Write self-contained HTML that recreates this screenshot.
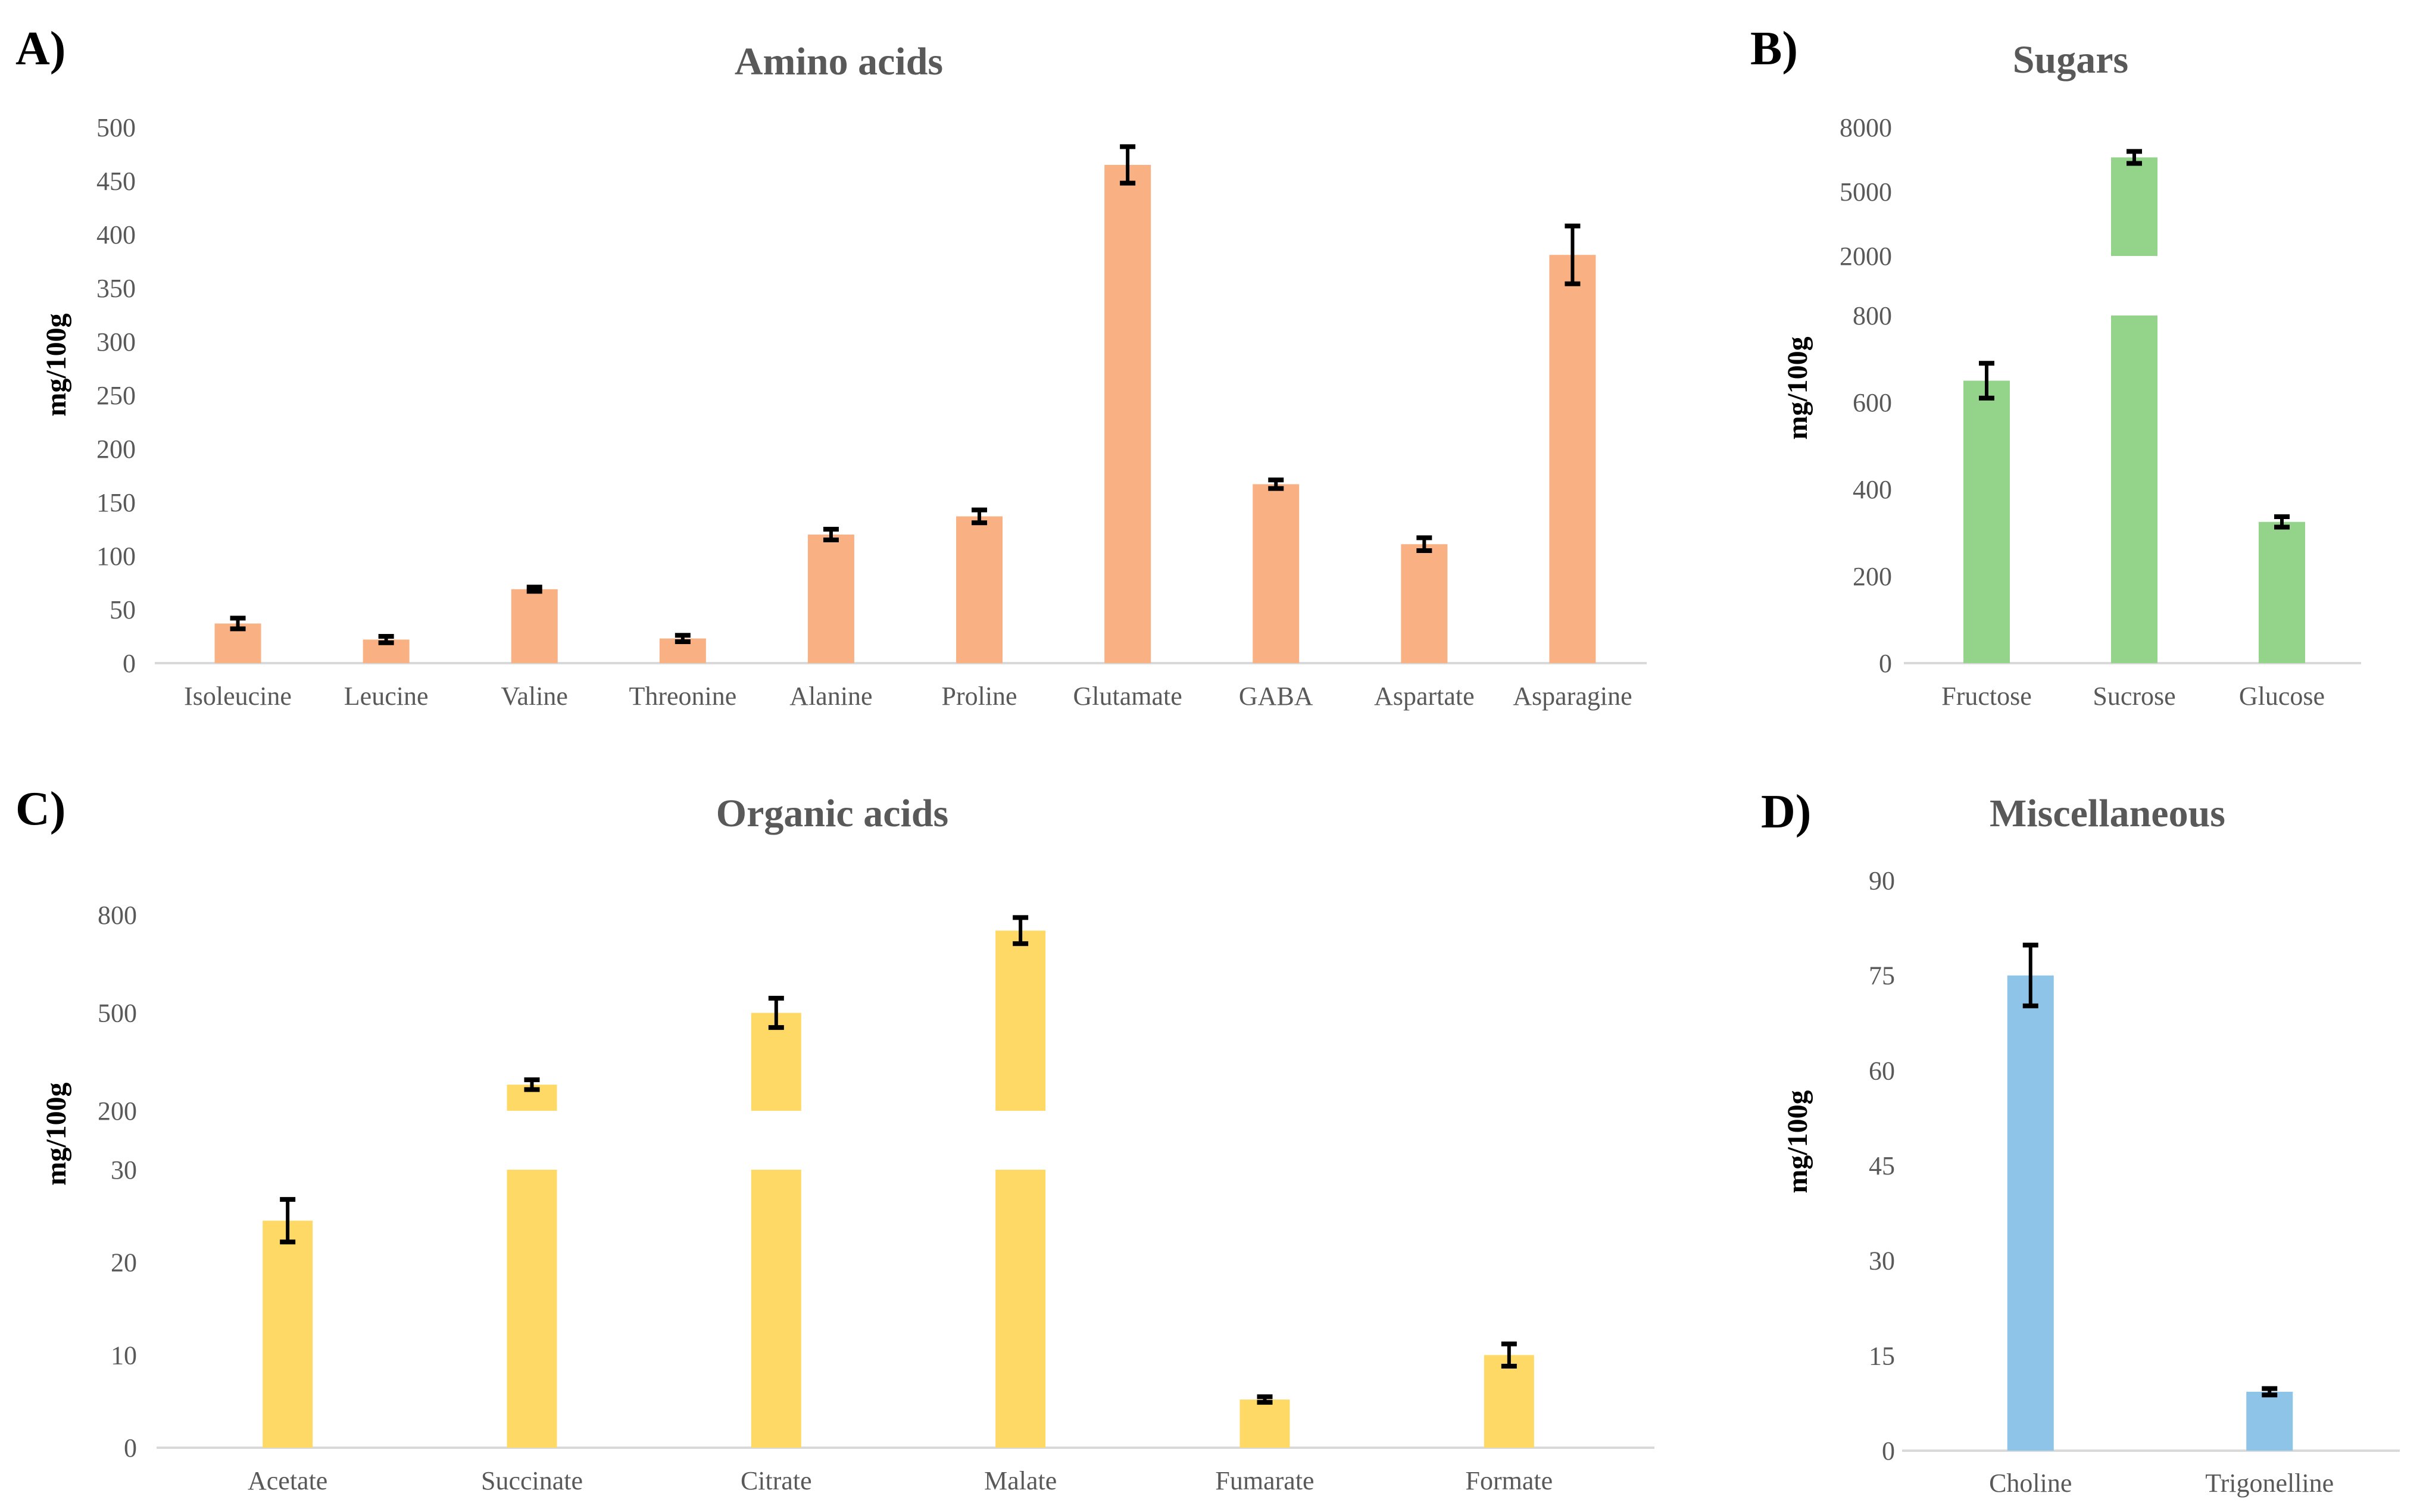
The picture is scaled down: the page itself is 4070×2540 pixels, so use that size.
<!DOCTYPE html>
<html><head><meta charset="utf-8"><style>
html,body{margin:0;padding:0;background:#fff;width:4070px;height:2540px;overflow:hidden}
svg{display:block}
</style></head><body>
<svg id="fig" width="4070" height="2540" xmlns="http://www.w3.org/2000/svg" font-family="'Liberation Serif', serif"></svg>
<script>
// ---- Panel A: Amino acids ----
const aminoCategories = ["Isoleucine","Leucine","Valine","Threonine","Alanine","Proline","Glutamate","GABA","Aspartate","Asparagine"];
const aminoValues = [37,22,69,23,120,137,465,167,111,381];
const aminoErrors = [5,3,2,3,5,6,17,4,6,27];
const aminoTicks = [0,50,100,150,200,250,300,350,400,450,500];
// ---- Panel B: Sugars ----
const sugarCategories = ["Fructose","Sucrose","Glucose"];
const sugarValues = [650,6600,325];
const sugarErrors = [40,280,12];
const sugarTicks = [0,200,400,600,800,2000,5000,8000];
// ---- Panel C: Organic acids ----
const organicCategories = ["Acetate","Succinate","Citrate","Malate","Fumarate","Formate"];
const organicValues = [24.5,280,500,752,5.2,10];
const organicErrors = [2.3,15,45,40,0.3,1.2];
const organicTicks = [0,10,20,30,200,500,800];
// ---- Panel D: Miscellaneous ----
const miscCategories = ["Choline","Trigonelline"];
const miscValues = [75,9.3];
const miscErrors = [4.8,0.5];
const miscTicks = [0,15,30,45,60,75,90];

const NS="http://www.w3.org/2000/svg";
const svg=document.getElementById('fig');
function mk(tag,attrs,parent){const e=document.createElementNS(NS,tag);for(const k in attrs)e.setAttribute(k,attrs[k]);(parent||svg).appendChild(e);return e;}

function panel(cfg){
  const g=mk('g',{});
  
  
  const segs=cfg.segs;
  function y(v){
    for(const s of segs){ if(v>=s.lo && v<=s.hi) return s.yLo+(v-s.lo)/(s.hi-s.lo)*(s.yHi-s.yLo); }
    const last=segs[segs.length-1];
    if(v>last.hi) return last.yLo+(v-last.lo)/(last.hi-last.lo)*(last.yHi-last.yLo);
    for(let i=0;i<segs.length-1;i++){ if(v>segs[i].hi && v<segs[i+1].lo) return segs[i].yHi; }
    return segs[0].yLo;
  }
  const n=cfg.cats.length;
  const step=(cfg.x1-cfg.x0)/n;
  const xc=i=>cfg.x0+step*(i+0.5);
  const L=mk('text',{x:cfg.letterX,y:cfg.letterY,'font-size':80,'font-weight':'bold',fill:'#000'},g);
  L.textContent=cfg.letter;
  
  
  const T=mk('text',{x:cfg.titleX,y:cfg.titleY,'font-size':66,'font-weight':'bold',fill:'#595959','text-anchor':'middle'},g);
  T.textContent=cfg.title;
  
  
  const Y=mk('text',{x:0,y:0,'font-size':48,'font-weight':'bold',fill:'#000','text-anchor':'middle',transform:`translate(${cfg.ylabX},${cfg.ylabY}) rotate(-90)`},g);
  Y.textContent='mg/100g';
  
  
  cfg.ticks.forEach(t=>{
    const e=mk('text',{x:cfg.tickX,y:y(t)+15,'font-size':44,fill:'#595959','text-anchor':'end'},g);
    e.textContent=t;
    
    
  });
  const ax=mk('line',{x1:cfg.x0-15,x2:cfg.axEnd||cfg.x1,y1:segs[0].yLo,y2:segs[0].yLo,stroke:'#d9d9d9','stroke-width':4},g);
  
  
  cfg.cats.forEach((c,i)=>{
    const v=cfg.vals[i], cx=xc(i), w=cfg.bw;
    segs.forEach(s=>{
      if(v<=s.lo && s!==segs[0]) return;
      const top=y(Math.min(v,s.hi)), bot=y(s.lo);
      const r=mk('rect',{x:cx-w/2,y:top,width:w,height:Math.max(0,bot-top),fill:cfg.color},g);
      
      
    });
    const e=cfg.errs[i], yt=y(v+e), yb=y(v-e);
    const eg=mk('g',{stroke:'#000','stroke-width':6},g);
    
    
    mk('line',{x1:cx,x2:cx,y1:yt,y2:yb},eg);
    mk('line',{x1:cx-13,x2:cx+13,y1:yt,y2:yt,'stroke-width':8},eg);
    mk('line',{x1:cx-13,x2:cx+13,y1:yb,y2:yb,'stroke-width':8},eg);
    const lt=mk('text',{x:cx,y:cfg.catY,'font-size':44,fill:'#595959','text-anchor':'middle'},g);
    lt.textContent=c;
    
    
  });
}

panel({name:'amino-acids-chart',letter:'A)',letterX:26,letterY:108,title:'Amino acids',titleX:1409,titleY:125,
  ylabX:110,ylabY:613,tickX:228,catY:1184,x0:275,x1:2766,bw:78,color:'#F9B183',
  segs:[{lo:0,hi:500,yLo:1114,yHi:214}],cats:aminoCategories,vals:aminoValues,errs:aminoErrors,ticks:aminoTicks});
panel({name:'sugars-chart',letter:'B)',letterX:2940,letterY:108,title:'Sugars',titleX:3478,titleY:122,
  ylabX:3035,ylabY:652,tickX:3178,catY:1184,x0:3213,x1:3957,axEnd:3966,bw:78,color:'#93D38A',
  segs:[{lo:0,hi:800,yLo:1114,yHi:530},{lo:2000,hi:8000,yLo:430,yHi:214}],cats:sugarCategories,vals:sugarValues,errs:sugarErrors,ticks:sugarTicks});
panel({name:'organic-acids-chart',letter:'C)',letterX:26,letterY:1385,title:'Organic acids',titleX:1398,titleY:1388,
  ylabX:110,ylabY:1905,tickX:230,catY:2502,x0:278,x1:2740,axEnd:2779,bw:84,color:'#FFD966',
  segs:[{lo:0,hi:30,yLo:2432,yHi:1965},{lo:200,hi:800,yLo:1866,yHi:1537}],cats:organicCategories,vals:organicValues,errs:organicErrors,ticks:organicTicks});
panel({name:'miscellaneous-chart',letter:'D)',letterX:2958,letterY:1390,title:'Miscellaneous',titleX:3540,titleY:1388,
  ylabX:3035,ylabY:1918,tickX:3183,catY:2506,x0:3210,x1:4013,axEnd:4031,bw:78,color:'#8EC4E8',
  segs:[{lo:0,hi:90,yLo:2437,yHi:1479}],cats:miscCategories,vals:miscValues,errs:miscErrors,ticks:miscTicks});
</script>
</body></html>
